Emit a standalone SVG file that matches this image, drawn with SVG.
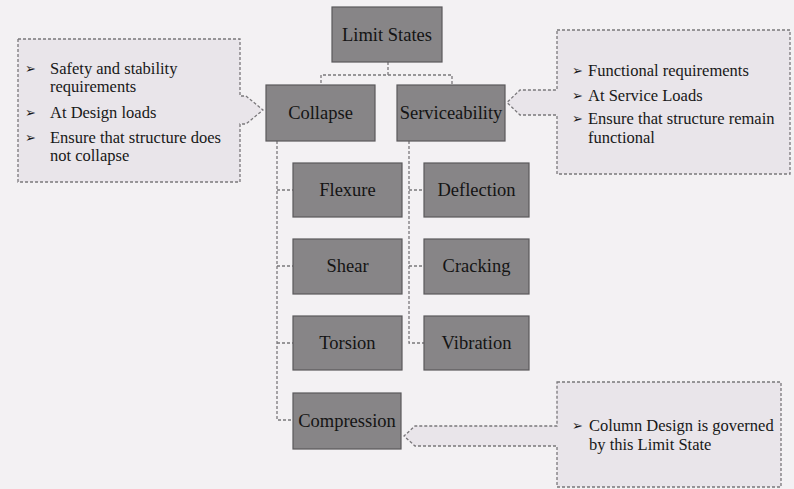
<svg xmlns="http://www.w3.org/2000/svg" width="794" height="489" viewBox="0 0 794 489">
<style>
.node rect{fill:#878587;stroke:#5a595b;stroke-width:1.2}
.node text{font-family:"Liberation Serif",serif;font-size:18.5px;fill:#141414;text-anchor:middle}
.call path{fill:#e9e5ea;stroke:#7a787b;stroke-width:1.3;stroke-dasharray:3 2}
.call text{font-family:"Liberation Serif",serif;font-size:16.5px;fill:#181818}
.call .b{font-family:"DejaVu Sans",sans-serif;font-size:13px}
#connectors path{fill:none;stroke:#7a787b;stroke-width:1.3;stroke-dasharray:3 2}
</style>
<rect x="0" y="0" width="794" height="489" fill="#f3f1f3"/>
<g id="connectors">
<path d="M388,62 V75 H321 V85 M388,75 H452 V85"/>
<path d="M277,141 V420 H293 M277,190 H293 M277,266 H293 M277,343 H293"/>
<path d="M409,141 V343 H424 M409,190 H424 M409,266 H424"/>
</g>
<g id="callout-collapse" class="call">
<path d="M18,39 H240 V96 H246 L263,110 L246,124 H240 V182 H18 Z"/>
<text class="b" x="25" y="73">➢</text><text x="50" y="74">Safety and stability</text>
<text x="50" y="92">requirements</text>
<text class="b" x="25" y="117">➢</text><text x="50" y="118">At Design loads</text>
<text class="b" x="25" y="142">➢</text><text x="50" y="143">Ensure that structure does</text>
<text x="50" y="161">not collapse</text>
</g>
<g id="callout-service" class="call">
<path d="M557,30 H790 V174 H557 V115 H520 L507,102.5 L520,90 H557 Z"/>
<text class="b" x="572" y="75">➢</text><text x="588" y="76">Functional requirements</text>
<text class="b" x="572" y="100">➢</text><text x="588" y="101">At Service Loads</text>
<text class="b" x="572" y="123">➢</text><text x="588" y="124">Ensure that structure remain</text>
<text x="588" y="143">functional</text>
</g>
<g id="callout-compression" class="call">
<path d="M557,382 H781 V487 H557 V446 H415 L404,436 L415,426 H557 Z"/>
<text class="b" x="572" y="430">➢</text><text x="589" y="431">Column Design is governed</text>
<text x="589" y="450">by this Limit State</text>
</g>
<g id="limit-states" class="node"><rect x="332" y="7" width="110" height="55"/><text x="387" y="41">Limit States</text></g>
<g id="collapse" class="node"><rect x="266" y="85" width="109" height="56"/><text x="320.5" y="119">Collapse</text></g>
<g id="serviceability" class="node"><rect x="397" y="85" width="108" height="56"/><text x="451" y="119">Serviceability</text></g>
<g id="flexure" class="node"><rect x="293" y="163" width="109" height="54"/><text x="347.5" y="196">Flexure</text></g>
<g id="shear" class="node"><rect x="293" y="239" width="109" height="55"/><text x="347.5" y="272">Shear</text></g>
<g id="torsion" class="node"><rect x="293" y="316" width="109" height="54"/><text x="347.5" y="349">Torsion</text></g>
<g id="compression" class="node"><rect x="293" y="393" width="108" height="56"/><text x="347" y="427">Compression</text></g>
<g id="deflection" class="node"><rect x="424" y="163" width="105" height="54"/><text x="476.5" y="196">Deflection</text></g>
<g id="cracking" class="node"><rect x="424" y="239" width="105" height="55"/><text x="476.5" y="272">Cracking</text></g>
<g id="vibration" class="node"><rect x="424" y="316" width="105" height="54"/><text x="476.5" y="349">Vibration</text></g>
</svg>
